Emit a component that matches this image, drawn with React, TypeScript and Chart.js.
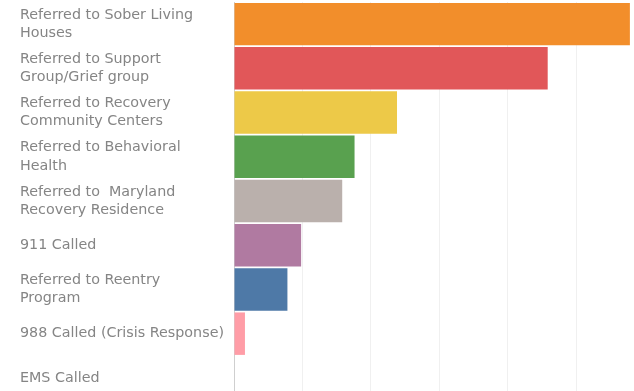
import React, { useEffect, useRef } from "react";
import { Chart, registerables } from "chart.js";

Chart.register(...registerables);

const categories: string[][] = [
  ["Referred to Sober Living", "Houses"],
  ["Referred to Support", "Group/Grief group"],
  ["Referred to Recovery", "Community Centers"],
  ["Referred to Behavioral", "Health"],
  ["Referred to  Maryland", "Recovery Residence"],
  ["911 Called"],
  ["Referred to Reentry", "Program"],
  ["988 Called (Crisis Response)"],
  ["EMS Called"],
];

const values: number[] = [289, 229, 119, 88, 79, 49, 39, 8, 0];

const barColors: string[] = [
  "#F28E2B",
  "#E15759",
  "#EDC948",
  "#59A14F",
  "#BAB0AC",
  "#B07AA1",
  "#4E79A7",
  "#FF9DA7",
  "#9C755F",
];

export default function App() {
  const ref = useRef<HTMLCanvasElement | null>(null);
  useEffect(() => {
    if (!ref.current) return;
    const chart = new Chart(ref.current, {
      type: "bar",
      data: {
        labels: categories,
        datasets: [
          {
            data: values,
            backgroundColor: barColors,
            barPercentage: 0.96,
            categoryPercentage: 1,
          },
        ],
      },
      options: {
        indexAxis: "y",
        animation: false,
        responsive: true,
        maintainAspectRatio: false,
        layout: { padding: { left: 20, top: 2, right: 0, bottom: 0 } },
        plugins: { legend: { display: false }, tooltip: { enabled: false } },
        scales: {
          x: {
            min: 0,
            max: 292,
            ticks: { display: false, stepSize: 50 },
            grid: { color: "#f0f0f0", drawTicks: false },
            border: { display: false },
            afterFit: (s: any) => {
              s.height = 0;
              s.paddingLeft = 0;
              s.paddingRight = 0;
            },
          },
          y: {
            grid: { display: false },
            border: { display: true, color: "#cfcfcf" },
            ticks: {
              crossAlign: "far",
              color: "#858585",
              font: { family: "DejaVu Sans", size: 14.3, lineHeight: 1.27 },
              padding: 0,
            },
            afterFit: (s: any) => {
              s.width = 214;
              s.paddingTop = 0;
              s.paddingBottom = 0;
            },
          },
        },
      },
    });
    return () => chart.destroy();
  }, []);
  return (
    <div style={{ position: "fixed", left: 0, top: 0, width: 634, height: 400, background: "#fff" }}>
      <canvas ref={ref} />
    </div>
  );
}
